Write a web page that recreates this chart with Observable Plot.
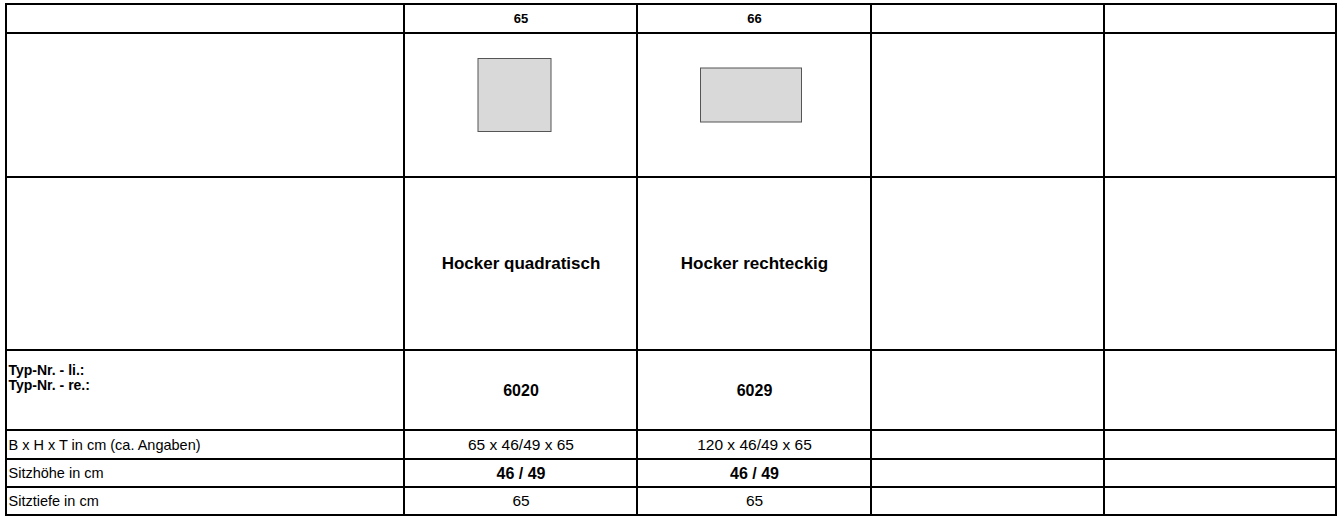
<!DOCTYPE html>
<html><head><meta charset="utf-8">
<script src="https://cdn.jsdelivr.net/npm/d3@7"></script>
<script src="https://cdn.jsdelivr.net/npm/@observablehq/plot@0.6"></script>
<style>html,body{margin:0;padding:0;background:#fff}</style>
</head><body><div id="chart"></div>
<script>
// ---- data ----
const modelNumbers = ["65", "66", "", ""];
const productNames = ["Hocker quadratisch", "Hocker rechteckig", "", ""];
const typeNumbers = ["6020", "6029", "", ""];
const dimensions = ["65 x 46/49 x 65", "120 x 46/49 x 65", "", ""];
const seatHeights = ["46 / 49", "46 / 49", "", ""];
const seatDepths = ["65", "65", "", ""];
const rowLabels = ["Typ-Nr. - li.:\nTyp-Nr. - re.:", "B x H x T in cm (ca. Angaben)", "Sitzhöhe in cm", "Sitztiefe in cm"];

// ---- layout ----
const colWidths = [398, 233, 234, 233, 232];
const rowHeights = [29, 144, 173, 80, 29, 28, 28];
const iconW = [73, 101], iconH = [73, 54];
const iconShiftX = [-6, -3], iconShiftY = -10;
const font = "Liberation Sans, Arial, Helvetica, sans-serif";

const colEdges = [0, ...d3.cumsum(colWidths)];
const rowEdges = [0, ...d3.cumsum(rowHeights)];
const totalW = colEdges[colEdges.length - 1];
const totalH = rowEdges[rowEdges.length - 1];
const colMid = i => (colEdges[i] + colEdges[i + 1]) / 2;
const rowMid = j => (rowEdges[j] + rowEdges[j + 1]) / 2;

const cells = [];
rowHeights.forEach((h, j) => colWidths.forEach((w, i) => cells.push({
  x1: colEdges[i], x2: colEdges[i + 1], y1: rowEdges[j], y2: rowEdges[j + 1]
})));

const icons = iconW.map((w, i) => {
  const h = iconH[i];
  const cx = colMid(i + 1) + iconShiftX[i], cy = rowMid(1) + iconShiftY;
  return {x1: cx - w / 2, x2: cx + w / 2, y1: cy - h / 2, y2: cy + h / 2};
});

const valueText = (arr, row, opts) => Plot.text(arr, {
  x: (d, i) => colMid(i + 1), y: () => rowMid(row), text: d => d,
  fill: "black", fontFamily: font, ...opts
});

const chart = Plot.plot({
  width: 1344, height: 516, margin: 0,
  x: {domain: [0, totalW], range: [6, 1336], axis: null},
  y: {domain: [0, totalH], range: [4, 515], axis: null},
  style: {fontFamily: font, background: "white"},
  marks: [
    Plot.rect(cells, {x1: "x1", x2: "x2", y1: "y1", y2: "y2", fill: "white", stroke: "black", strokeWidth: 2}),
    Plot.rect(icons, {x1: "x1", x2: "x2", y1: "y1", y2: "y2", fill: "#d9d9d9", stroke: "#555", strokeWidth: 1}),
    valueText(modelNumbers, 0, {fontWeight: "bold", fontSize: 13}),
    valueText(productNames, 2, {fontWeight: "bold", fontSize: 17}),
    valueText(typeNumbers, 3, {fontWeight: "bold", fontSize: 16}),
    valueText(dimensions, 4, {fontSize: 15.5}),
    valueText(seatHeights, 5, {fontWeight: "bold", fontSize: 16}),
    valueText(seatDepths, 6, {fontSize: 15.5}),
    Plot.text([rowLabels[0]], {x: () => 2, y: () => rowMid(3) - 13, text: d => d, textAnchor: "start",
      fontWeight: "bold", fontSize: 14, lineHeight: 1.05, fill: "black"}),
    Plot.text(rowLabels.slice(1), {x: () => 2, y: (d, i) => rowMid(i + 4), text: d => d, textAnchor: "start",
      fontSize: 14.5, fill: "black"})
  ]
});
document.getElementById("chart").appendChild(chart);
</script>
</body></html>
